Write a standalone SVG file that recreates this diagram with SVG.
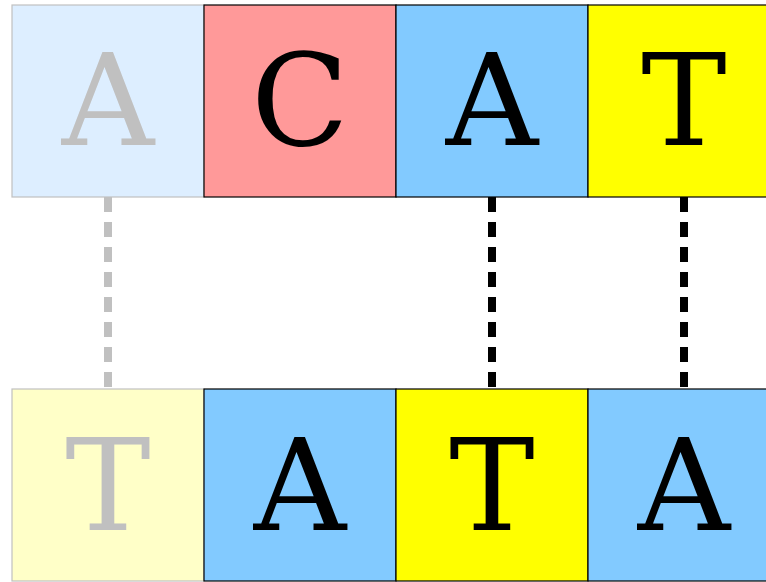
<svg xmlns="http://www.w3.org/2000/svg" width="766" height="582" viewBox="0 0 766 582">
  <style>
    .box { stroke: #000; stroke-width: 1.2; }
    .faded { stroke: #c0c0c0; }
    .base { font-family: "DejaVu Serif", "Liberation Serif", serif; font-size: 128px; text-anchor: middle; fill: #000; }
    .base.faded { fill: #c0c0c0; stroke: none; }
    .bond { stroke: #000; stroke-width: 8; stroke-dasharray: 15 10; fill: none; }
    .bond.faded { stroke: #c0c0c0; }
  </style>
  <rect width="766" height="582" fill="#fff"/>

  <!-- hydrogen bonds between paired bases -->
  <g id="connectors">
    <line class="bond faded" x1="108" y1="197" x2="108" y2="389"/>
    <line class="bond" x1="492" y1="197" x2="492" y2="389"/>
    <line class="bond" x1="684" y1="197" x2="684" y2="389"/>
  </g>

  <!-- upper strand -->
  <g id="top-1">
    <rect class="box faded" x="12" y="5" width="192" height="192" fill="#ddeeff"/>
    <text class="base faded" x="108" y="145">A</text>
  </g>
  <g id="top-2">
    <rect class="box" x="204" y="5" width="192" height="192" fill="#ff9999"/>
    <text class="base" x="300" y="145">C</text>
  </g>
  <g id="top-3">
    <rect class="box" x="396" y="5" width="192" height="192" fill="#82caff"/>
    <text class="base" x="492" y="145">A</text>
  </g>
  <g id="top-4">
    <rect class="box" x="588" y="5" width="192" height="192" fill="#ffff00"/>
    <text class="base" x="684" y="145">T</text>
  </g>

  <!-- lower strand -->
  <g id="bottom-1">
    <rect class="box faded" x="12" y="389" width="192" height="192" fill="#ffffc8"/>
    <text class="base faded" x="108" y="530">T</text>
  </g>
  <g id="bottom-2">
    <rect class="box" x="204" y="389" width="192" height="192" fill="#82caff"/>
    <text class="base" x="300" y="530">A</text>
  </g>
  <g id="bottom-3">
    <rect class="box" x="396" y="389" width="192" height="192" fill="#ffff00"/>
    <text class="base" x="492" y="530">T</text>
  </g>
  <g id="bottom-4">
    <rect class="box" x="588" y="389" width="192" height="192" fill="#82caff"/>
    <text class="base" x="684" y="530">A</text>
  </g>
</svg>
